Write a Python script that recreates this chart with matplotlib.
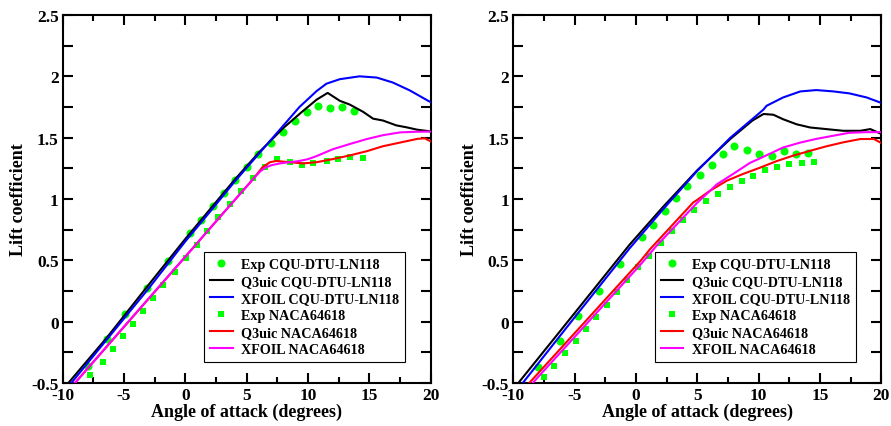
import matplotlib
matplotlib.use("Agg")
import matplotlib.pyplot as plt
from matplotlib.ticker import MultipleLocator, FuncFormatter

# ---- left panel data ----
L_exp_cqu_x = [-7.9, -6.41, -4.92, -3.15, -1.39, 0.38, 1.28, 2.23, 3.15, 4.05, 5.0, 5.9,
               6.96, 7.99, 8.94, 9.89, 10.84, 11.79, 12.8, 13.78]
L_exp_cqu_y = [-0.36, -0.141, 0.062, 0.277, 0.497, 0.72, 0.83, 0.94, 1.046, 1.155, 1.258, 1.364,
               1.454, 1.549, 1.636, 1.707, 1.76, 1.74, 1.747, 1.72]
L_exp_naca_x = [-7.77, -6.74, -5.87, -5.05, -4.24, -3.42, -2.61, -1.79, -0.84, 0.05, 0.92, 1.79,
                2.69, 3.64, 4.51, 5.54, 6.49, 7.45, 8.53, 9.48, 10.43, 11.52, 12.47, 13.42, 14.46]
L_exp_naca_y = [-0.435, -0.332, -0.223, -0.12, -0.019, 0.084, 0.19, 0.299, 0.408, 0.522, 0.628, 0.742,
                0.85, 0.959, 1.063, 1.171, 1.258, 1.326, 1.304, 1.28, 1.293, 1.313, 1.326, 1.34, 1.332]

L_q3_cqu_x = [-9.54, -6.4, -3.0, 0.0, 2.0, 4.0, 6.0, 8.0, 9.5, 10.7, 11.6, 12.6, 13.4, 14.5,
              15.3, 16.1, 17.2, 18.0, 18.9, 19.7, 20.0]
L_q3_cqu_y = [-0.5, -0.13, 0.30, 0.675, 0.915, 1.155, 1.38, 1.58, 1.71, 1.81, 1.865, 1.80, 1.77, 1.71,
              1.655, 1.64, 1.60, 1.585, 1.565, 1.555, 1.55]
L_xf_cqu_x = [-9.3, -6.4, -3.0, 0.0, 2.0, 4.0, 6.0, 8.0, 9.3, 10.7, 11.5, 12.6, 14.2, 15.6,
              16.9, 18.3, 19.8, 20.0]
L_xf_cqu_y = [-0.5, -0.145, 0.27, 0.655, 0.895, 1.14, 1.37, 1.60, 1.75, 1.88, 1.94, 1.977, 2.0, 1.99,
              1.95, 1.885, 1.80, 1.79]
L_q3_naca_x = [-9.0, 0.0, 3.0, 5.5, 6.3, 6.9, 7.4, 8.5, 9.6, 10.7, 12.0, 13.4, 14.8, 16.1,
               17.5, 18.9, 19.5, 20.0]
L_q3_naca_y = [-0.5, 0.53, 0.875, 1.16, 1.26, 1.30, 1.31, 1.30, 1.29, 1.30, 1.325, 1.355, 1.39, 1.43,
               1.46, 1.49, 1.495, 1.47]
L_xf_naca_x = [-9.0, -5.0, 0.0, 3.0, 5.5, 6.1, 6.5, 7.0, 7.7, 8.5, 9.3, 10.0, 10.7, 12.0, 13.4,
               14.8, 16.1, 17.5, 18.8, 20.0]
L_xf_naca_y = [-0.5, -0.04, 0.53, 0.875, 1.16, 1.225, 1.255, 1.275, 1.29, 1.30, 1.31, 1.325, 1.35,
               1.405, 1.448, 1.489, 1.52, 1.543, 1.548, 1.55]

# ---- right panel data ----
R_exp_cqu_x = [-7.96, -6.2, -4.7, -3.02, -1.3, 0.52, 1.41, 2.36, 3.26, 4.18, 5.22, 6.17, 7.07,
               8.02, 9.02, 10.05, 11.06, 12.05, 13.06, 14.05]
R_exp_cqu_y = [-0.372, -0.155, 0.049, 0.253, 0.47, 0.688, 0.79, 0.9, 1.005, 1.103, 1.198, 1.28, 1.367,
               1.432, 1.403, 1.363, 1.353, 1.394, 1.37, 1.376]
R_exp_naca_x = [-7.5, -6.68, -5.79, -4.89, -4.08, -3.26, -2.39, -1.58, -0.71, 0.19, 1.06, 2.01,
                2.91, 3.86, 4.76, 5.71, 6.68, 7.66, 8.61, 9.56, 10.55, 11.52, 12.5, 13.5, 14.52]
R_exp_naca_y = [-0.454, -0.359, -0.255, -0.155, -0.06, 0.035, 0.136, 0.239, 0.34, 0.443, 0.538, 0.639,
                0.736, 0.829, 0.91, 0.981, 1.043, 1.097, 1.146, 1.19, 1.233, 1.264, 1.285, 1.291, 1.299]

R_q3_cqu_x = [-9.59, -5.0, -0.5, 2.2, 5.0, 7.7, 9.5, 10.4, 11.2, 12.0, 13.1, 14.2, 15.5, 16.9,
              18.3, 19.1, 19.9, 20.0]
R_q3_cqu_y = [-0.5, 0.07, 0.63, 0.935, 1.235, 1.49, 1.64, 1.693, 1.687, 1.65, 1.609, 1.583, 1.57, 1.556,
              1.556, 1.57, 1.535, 1.53]
R_xf_cqu_x = [-9.23, -5.0, -0.5, 2.2, 5.0, 7.7, 10.0, 10.4, 10.65, 12.0, 13.4, 14.7, 16.1, 17.4,
              18.8, 19.9, 20.0]
R_xf_cqu_y = [-0.5, 0.035, 0.6, 0.915, 1.23, 1.5, 1.695, 1.73, 1.76, 1.828, 1.877, 1.888, 1.877, 1.861,
              1.828, 1.787, 1.785]
R_q3_naca_x = [-8.7, 0.41, 1.14, 4.67, 4.95, 6.0, 7.4, 8.7, 10.1, 11.5, 12.8, 14.2, 15.5, 16.9,
               18.3, 19.4, 19.9, 20.0]
R_q3_naca_y = [-0.5, 0.5, 0.59, 0.972, 0.99, 1.065, 1.149, 1.203, 1.255, 1.31, 1.353, 1.393, 1.429,
               1.462, 1.489, 1.489, 1.462, 1.455]
R_xf_naca_x = [-8.42, 0.41, 1.69, 4.95, 6.6, 7.9, 9.3, 10.0, 10.4, 12.0, 13.4, 14.7, 16.1, 17.4,
               18.8, 20.0]
R_xf_naca_y = [-0.5, 0.47, 0.62, 0.965, 1.12, 1.203, 1.295, 1.326, 1.345, 1.42, 1.46, 1.49, 1.516,
               1.54, 1.545, 1.545]

GREEN = "#00ff00"
FONT = "Liberation Serif"

plt.rcParams["font.family"] = FONT
plt.rcParams["font.weight"] = "bold"
plt.rcParams["axes.unicode_minus"] = False

fig = plt.figure(figsize=(8.91, 4.27), dpi=100)
ax_l = fig.add_axes([62.7 / 891, 43 / 427, 368 / 891, 368 / 427])
ax_r = fig.add_axes([513.3 / 891, 43 / 427, 368 / 891, 368 / 427])


def draw_panel(ax, exp_cqu, exp_naca, q3_cqu, xf_cqu, q3_naca, xf_naca):
    ax.plot(*exp_cqu, "o", color=GREEN, markersize=5.8, markeredgewidth=0,
            label="Exp CQU-DTU-LN118", zorder=2)
    ax.plot(*q3_cqu, "-", color="black", lw=1.5, label="Q3uic CQU-DTU-LN118", zorder=3)
    ax.plot(*xf_cqu, "-", color="#0000ff", lw=1.5, label="XFOIL CQU-DTU-LN118", zorder=4)
    ax.plot(*exp_naca, "s", color=GREEN, markersize=4.8, markeredgewidth=0,
            label="Exp NACA64618", zorder=2)
    ax.plot(*q3_naca, "-", color="#ff0000", lw=1.5, label="Q3uic NACA64618", zorder=5)
    ax.plot(*xf_naca, "-", color="#ff00ff", lw=1.5, label="XFOIL NACA64618", zorder=6)

    ax.set_xlim(-10, 20)
    ax.set_ylim(-0.5, 2.5)
    ax.xaxis.set_major_locator(MultipleLocator(5))
    ax.xaxis.set_minor_locator(MultipleLocator(2.5))
    ax.yaxis.set_major_locator(MultipleLocator(0.5))
    ax.yaxis.set_minor_locator(MultipleLocator(0.25))
    ax.yaxis.set_major_formatter(FuncFormatter(lambda v, p: f"{v:g}"))
    ax.tick_params(which="both", direction="in", top=True, right=True, width=1.5,
                   labelsize=12.5, pad=3)
    ax.tick_params(which="major", length=7)
    ax.tick_params(axis="x", which="minor", length=4)
    ax.tick_params(axis="y", which="minor", length=7)
    for s in ax.spines.values():
        s.set_linewidth(1.5)

    ax.set_xlabel("Angle of attack (degrees)", fontsize=13, fontweight="bold", labelpad=0)
    ax.set_ylabel("Lift coefficient", fontsize=13, fontweight="bold", labelpad=3)

    leg = ax.legend(loc="lower left", bbox_to_anchor=(0.385, 0.058),
                    prop={"family": FONT, "weight": "bold", "size": 10.2},
                    frameon=True, fancybox=False, framealpha=1, edgecolor="black",
                    handlelength=1.6, handletextpad=0.6, labelspacing=0.28,
                    borderpad=0.4, borderaxespad=0)
    leg.get_frame().set_linewidth(0.8)


draw_panel(ax_l, (L_exp_cqu_x, L_exp_cqu_y), (L_exp_naca_x, L_exp_naca_y),
           (L_q3_cqu_x, L_q3_cqu_y), (L_xf_cqu_x, L_xf_cqu_y),
           (L_q3_naca_x, L_q3_naca_y), (L_xf_naca_x, L_xf_naca_y))
draw_panel(ax_r, (R_exp_cqu_x, R_exp_cqu_y), (R_exp_naca_x, R_exp_naca_y),
           (R_q3_cqu_x, R_q3_cqu_y), (R_xf_cqu_x, R_xf_cqu_y),
           (R_q3_naca_x, R_q3_naca_y), (R_xf_naca_x, R_xf_naca_y))

fig.savefig("out.png", dpi=100)
